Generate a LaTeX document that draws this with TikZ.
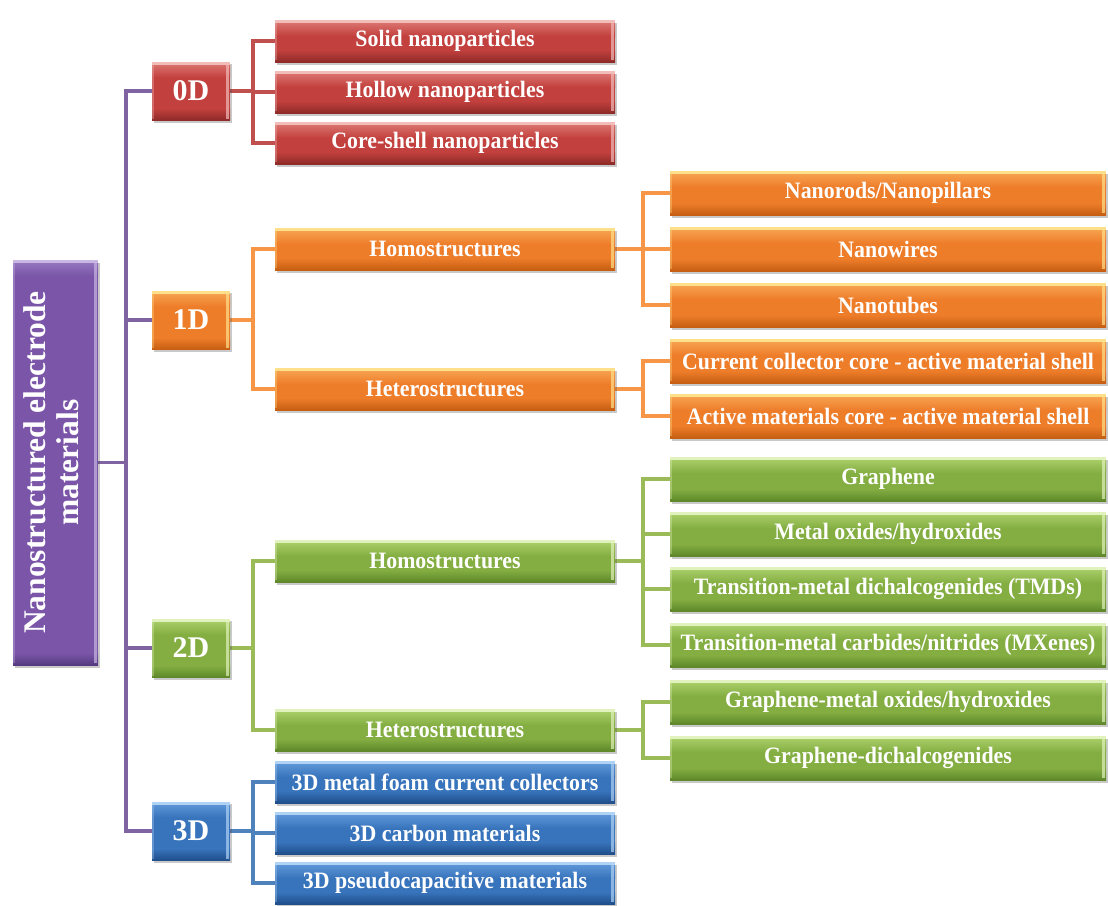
\documentclass[tikz,border=0pt]{standalone}
\usepackage{fontspec}
\setmainfont{Liberation Serif}
\newfontfamily\condserif[FakeStretch=0.93]{Liberation Serif}
\usetikzlibrary{calc,shadows,backgrounds}
% box colours: H highlight, L light, M main, D dark, C connector
\definecolor{rdH}{HTML}{F2BCB9}\definecolor{rdL}{HTML}{D9706C}\definecolor{rdM}{HTML}{C2403D}\definecolor{rdD}{HTML}{8E2A28}\definecolor{rdC}{HTML}{C0504D}
\definecolor{orH}{HTML}{FFE08A}\definecolor{orL}{HTML}{F6A04E}\definecolor{orM}{HTML}{EE7D2A}\definecolor{orD}{HTML}{C65E12}\definecolor{orC}{HTML}{F79646}
\definecolor{grH}{HTML}{E2F2BE}\definecolor{grL}{HTML}{A6CC66}\definecolor{grM}{HTML}{84AE42}\definecolor{grD}{HTML}{5E8829}\definecolor{grC}{HTML}{9BBB59}
\definecolor{blH}{HTML}{B0D2F4}\definecolor{blL}{HTML}{5C95D6}\definecolor{blM}{HTML}{3874BC}\definecolor{blD}{HTML}{1F4E8A}\definecolor{blC}{HTML}{4F81BD}
\definecolor{puH}{HTML}{C8B7E2}\definecolor{puL}{HTML}{9274BE}\definecolor{puM}{HTML}{7A55A8}\definecolor{puD}{HTML}{553A80}\definecolor{puC}{HTML}{8064A2}
\begin{document}
\begin{tikzpicture}[x=1pt,y=-1pt,
  bx/.style={rectangle, inner sep=2pt, text=white, fill=#1M,
    drop shadow={shadow xshift=1.5pt, shadow yshift=-2.5pt, opacity=.3, fill=black!70},
    path picture={
      \fill[#1M] (path picture bounding box.south west) rectangle (path picture bounding box.north east);
      \shade[top color=#1L, bottom color=#1M] ([yshift=-3pt]path picture bounding box.north west) rectangle ([yshift=-16pt]path picture bounding box.north east);
      \shade[top color=#1M, bottom color=#1D] ([yshift=12pt]path picture bounding box.south west) rectangle (path picture bounding box.south east);
      \fill[#1H] (path picture bounding box.north west) rectangle ([yshift=-3pt]path picture bounding box.north east);
      \fill[#1H, opacity=.7] ([xshift=-4pt,yshift=-3pt]path picture bounding box.north east) rectangle ([xshift=-1.5pt,yshift=2pt]path picture bounding box.south east);
      \fill[#1H, opacity=.35] ([yshift=-3pt]path picture bounding box.north west) rectangle ([xshift=2pt,yshift=2pt]path picture bounding box.south west);
    }},
  rootbox/.style={bx=#1, minimum width=85pt, minimum height=405pt,
    font=\bfseries\fontsize{31.5}{33}\selectfont},
  lvbox/.style={bx=#1, minimum width=78pt, minimum height=59pt,
    font=\bfseries\fontsize{30}{32}\selectfont},
  mdbox/.style={bx=#1, minimum width=340pt, minimum height=42pt,
    font=\condserif\bfseries\fontsize{23.5}{25}\selectfont},
  lfbox/.style={bx=#1, minimum width=436pt, minimum height=44pt,
    font=\condserif\bfseries\fontsize{23.5}{25}\selectfont},
  cn/.style={draw=#1C, line width=3.5pt}
]
\useasboundingbox (0,0) rectangle (1108,905);

% root
\node[rootbox=pu] (root) at (55.5,462.5)
  {\rotatebox{90}{\begin{tabular}{@{}c@{}}Nanostructured electrode\\materials\end{tabular}}};

% level 1
\node[lvbox=rd] (l0) at (191,91)  {0D};
\node[lvbox=or] (l1) at (191,320) {1D};
\node[lvbox=gr] (l2) at (191,648) {2D};
\node[lvbox=bl] (l3) at (191,831) {3D};

% level 2
\node[mdbox=rd] (s1) at (445,41)  {Solid nanoparticles};
\node[mdbox=rd] (s2) at (445,92)  {Hollow nanoparticles};
\node[mdbox=rd] (s3) at (445,143) {Core-shell nanoparticles};
\node[mdbox=or] (h1) at (445,249) {Homostructures};
\node[mdbox=or] (e1) at (445,389) {Heterostructures};
\node[mdbox=gr] (h2) at (445,561) {Homostructures};
\node[mdbox=gr] (e2) at (445,730) {Heterostructures};
\node[mdbox=bl] (t1) at (445,782) {3D metal foam current collectors};
\node[mdbox=bl] (t2) at (445,833) {3D carbon materials};
\node[mdbox=bl] (t3) at (445,883) {3D pseudocapacitive materials};

% level 3
\node[lfbox=or] (a1) at (888,193) {Nanorods/Nanopillars};
\node[lfbox=or] (a2) at (888,249) {Nanowires};
\node[lfbox=or] (a3) at (888,305) {Nanotubes};
\node[lfbox=or] (b1) at (888,361) {Current collector core - active material shell};
\node[lfbox=or] (b2) at (888,416) {Active materials core - active material shell};
\node[lfbox=gr] (g1) at (888,479) {Graphene};
\node[lfbox=gr] (g2) at (888,534) {Metal oxides/hydroxides};
\node[lfbox=gr] (g3) at (888,589) {Transition-metal dichalcogenides (TMDs)};
\node[lfbox=gr] (g4) at (888,645) {Transition-metal carbides/nitrides (MXenes)};
\node[lfbox=gr] (k1) at (888,702) {Graphene-metal oxides/hydroxides};
\node[lfbox=gr] (k2) at (888,758) {Graphene-dichalcogenides};

% connectors
\begin{scope}[on background layer]
\foreach \c in {l0,l1,l2,l3} \draw[cn=pu] (root.east) -- ++(28,0) |- (\c.west);
\foreach \c in {s1,s2,s3} \draw[cn=rd] (l0.east) -- ++(23,0) |- (\c.west);
\foreach \c in {h1,e1} \draw[cn=or] (l1.east) -- ++(23,0) |- (\c.west);
\foreach \c in {h2,e2} \draw[cn=gr] (l2.east) -- ++(23,0) |- (\c.west);
\foreach \c in {t1,t2,t3} \draw[cn=bl] (l3.east) -- ++(23,0) |- (\c.west);
\foreach \c in {a1,a2,a3} \draw[cn=or] (h1.east) -- ++(28,0) |- (\c.west);
\foreach \c in {b1,b2} \draw[cn=or] (e1.east) -- ++(28,0) |- (\c.west);
\foreach \c in {g1,g2,g3,g4} \draw[cn=gr] (h2.east) -- ++(28,0) |- (\c.west);
\foreach \c in {k1,k2} \draw[cn=gr] (e2.east) -- ++(28,0) |- (\c.west);
\end{scope}
\end{tikzpicture}
\end{document}
